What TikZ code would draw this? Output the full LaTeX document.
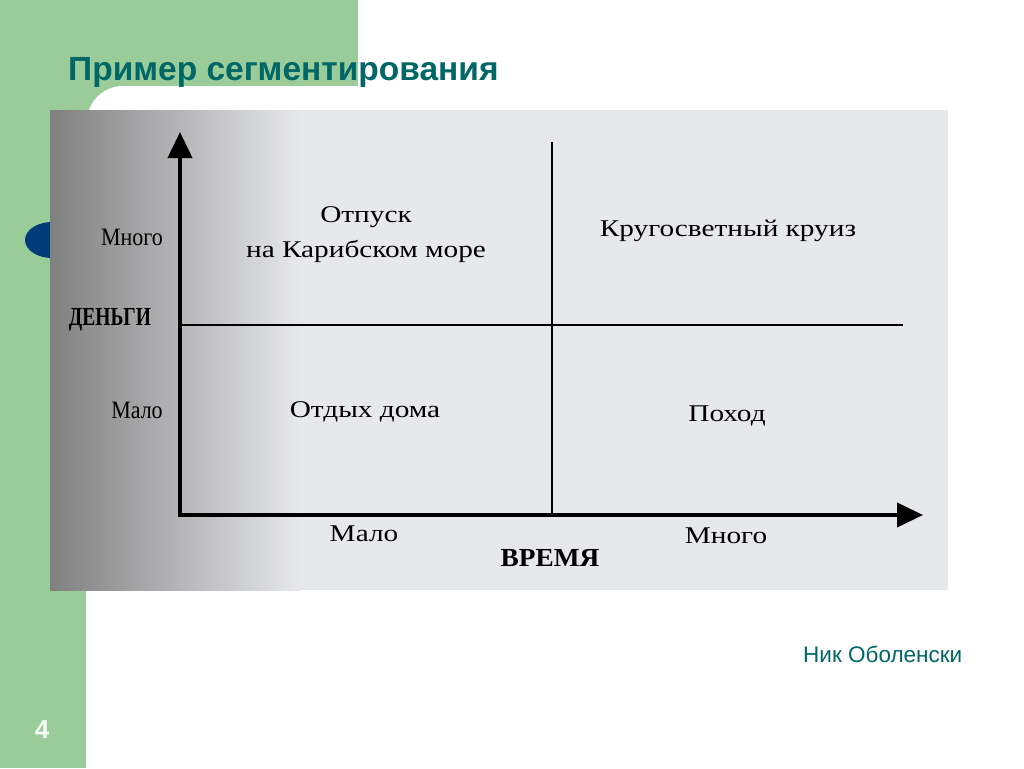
\documentclass[tikz,border=0pt]{standalone}
\usepackage{fontspec}
\setmainfont{Liberation Serif}
\newfontfamily\slidefont{Liberation Sans}
\usetikzlibrary{arrows.meta}
\definecolor{slidegreen}{RGB}{153,204,153}
\definecolor{titleteal}{RGB}{0,102,102}
\definecolor{dotblue}{RGB}{0,61,121}
\definecolor{scangray}{RGB}{231,232,236}

\begin{document}
\begin{tikzpicture}[x=1pt,y=-1pt,
  axis/.style={line width=4pt,-{Triangle[length=26pt,width=24pt]}},
  split/.style={line width=1.8pt},
  ticklabel/.style={font=\fontsize{25}{28}\selectfont,xscale=0.88,inner sep=0pt},
  scanlabel/.style={font=\fontsize{24}{35}\selectfont,xscale=1.22,inner sep=0pt,align=center},
  axisname/.style={font=\bfseries\fontsize{26}{28}\selectfont,inner sep=0pt}]

\useasboundingbox (0,0) rectangle (1024,768);
\fill[white] (0,0) rectangle (1024,768);

% slide background
\fill[slidegreen] (0,0) rectangle (358,112);
\fill[slidegreen] (0,0) rectangle (86,768);
\fill[white,rounded corners=36pt] (87,86) rectangle (1060,800);
\fill[dotblue] (52,240) ellipse [x radius=27, y radius=18];

% scanned figure
\fill[scangray] (50,110) rectangle (948,590);
\shade[left color=black!50, middle color=black!20, right color=scangray] (50,110) rectangle (300,590);

\coordinate (origin) at (178,515);
\coordinate (ytop) at (180,132);
\coordinate (xend) at (923,515);
\coordinate (mleft) at (182,325);
\coordinate (mright) at (903,325);
\coordinate (vtop) at (552,142);
\coordinate (vbot) at (552,513);

\draw[split] (mleft) -- (mright);
\draw[split] (vtop) -- (vbot);
\draw[axis] (180,517) -- (ytop);
\draw[axis] (origin) -- (xend);

\node[ticklabel] (ymany) at (132,237) {Много};
\node[axisname,xscale=0.75] (money) at (110,320) {ДЕНЬГИ};
\node[ticklabel] (yfew) at (137,410) {Мало};
\node[scanlabel] (xfew) at (364,534) {Мало};
\node[scanlabel] (xmany) at (726,536) {Много};
\node[axisname,xscale=1.05] (time) at (550,558) {ВРЕМЯ};

\node[scanlabel] (caribbean) at (366,235) {Отпуск\\на Карибском море};
\node[scanlabel] (cruise) at (728,231) {Кругосветный круиз};
\node[scanlabel] (home) at (365,412) {Отдых дома};
\node[scanlabel] (hike) at (727,416) {Поход};

% slide texts
\node[anchor=base west, inner sep=0pt, text=titleteal, font=\slidefont\bfseries\fontsize{33.5}{36}\selectfont] (title) at (68,80) {Пример сегментирования};
\node[anchor=base west, inner sep=0pt, text=titleteal, font=\slidefont\fontsize{22.5}{24}\selectfont] (author) at (803,662) {Ник Оболенски};
\node[inner sep=0pt, text=white!92!slidegreen, font=\slidefont\bfseries\fontsize{26}{28}\selectfont] (pagenum) at (42,730) {4};
\end{tikzpicture}
\end{document}
